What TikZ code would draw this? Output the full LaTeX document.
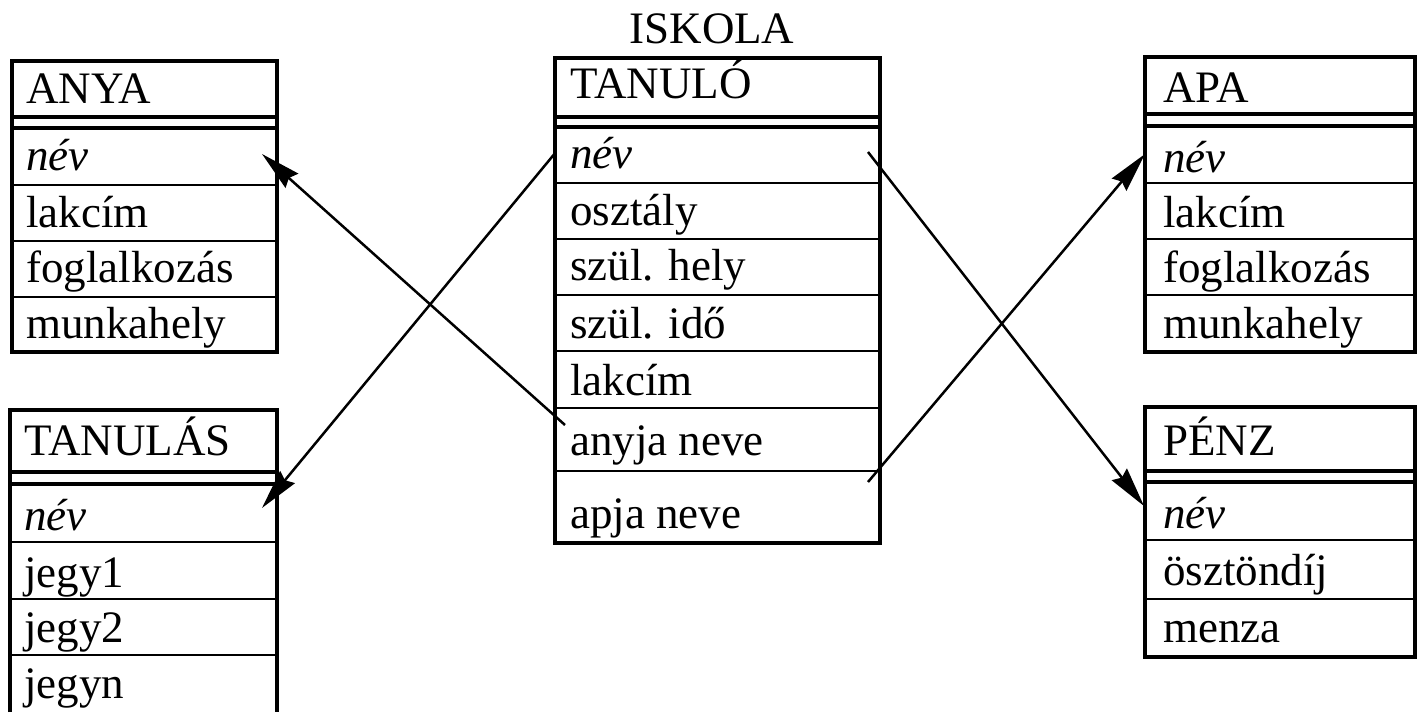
\documentclass[tikz,border=0pt]{standalone}
\usepackage{fontspec}
\setmainfont{Liberation Serif}
\usetikzlibrary{arrows.meta}
\begin{document}
\begin{tikzpicture}[x=1pt,y=-1pt,
  outer/.style={line width=4pt},
  dbl/.style={line width=4pt},
  sep/.style={line width=2pt},
  txt/.style={anchor=base west, inner sep=0pt, font=\fontsize{45}{54}\selectfont},
  ttl/.style={anchor=base, inner sep=0pt, font=\fontsize{45}{54}\selectfont},
  conn/.style={line width=2.5pt, -{Stealth[length=40pt,width=19pt,inset=4pt]}}]
\useasboundingbox (0,0) rectangle (1420,712);

% ---------- ANYA ----------
\draw[outer] (12,61) rectangle (277,352);
\draw[dbl] (12,117) -- (277,117) (12,128) -- (277,128);
\draw[sep] (12,185) -- (277,185) (12,241) -- (277,241) (12,297) -- (277,297);
\node[txt] (anya-h) at (26,103) {ANYA};
\node[txt] (anya-nev) at (26,170) {\itshape név};
\node[txt] (anya-lak) at (26,227) {lakcím};
\node[txt] (anya-fog) at (26,282) {foglalkozás};
\node[txt] (anya-mun) at (26,338) {munkahely};

% ---------- TANULÁS ----------
\draw[outer] (10,712) -- (10,410) -- (277,410) -- (277,712);
\draw[dbl] (10,472) -- (277,472) (10,484) -- (277,484);
\draw[sep] (10,542) -- (277,542) (10,599) -- (277,599) (10,655) -- (277,655);
\node[txt] (tls-h) at (24,455) {TANULÁS};
\node[txt] (tls-nev) at (24,530) {\itshape név};
\node[txt] (tls-j1) at (24,587) {jegy1};
\node[txt] (tls-j2) at (24,642) {jegy2};
\node[txt] (tls-jn) at (24,698) {jegyn};

% ---------- TANULÓ ----------
\node[ttl] (iskola) at (712,43) {ISKOLA};
\draw[outer] (555,58) rectangle (880,543);
\draw[dbl] (555,117) -- (880,117) (555,127) -- (880,127);
\draw[sep] (555,183) -- (880,183) (555,239) -- (880,239) (555,295) -- (880,295)
           (555,351) -- (880,351) (555,408) -- (880,408) (555,471) -- (880,471);
\node[txt] (tlo-h) at (570,98) {TANULÓ};
\node[txt] (tlo-nev) at (570,168) {\itshape név};
\node[txt] (tlo-oszt) at (570,225) {osztály};
\node[txt] (tlo-hely) at (570,280) {szül. hely};
\node[txt] (tlo-ido) at (570,338) {szül. idő};
\node[txt] (tlo-lak) at (570,395) {lakcím};
\node[txt] (tlo-anyja) at (570,455) {anyja neve};
\node[txt] (tlo-apja) at (570,528) {apja neve};

% ---------- APA ----------
\draw[outer] (1145,57) rectangle (1415,352);
\draw[dbl] (1145,114) -- (1415,114) (1145,126) -- (1415,126);
\draw[sep] (1145,183) -- (1415,183) (1145,239) -- (1415,239) (1145,295) -- (1415,295);
\node[txt] (apa-h) at (1163,102) {APA};
\node[txt] (apa-nev) at (1163,172) {\itshape név};
\node[txt] (apa-lak) at (1163,227) {lakcím};
\node[txt] (apa-fog) at (1163,282) {foglalkozás};
\node[txt] (apa-mun) at (1163,338) {munkahely};

% ---------- PÉNZ ----------
\draw[outer] (1145,407) rectangle (1415,657);
\draw[dbl] (1145,471) -- (1415,471) (1145,482) -- (1415,482);
\draw[sep] (1145,540) -- (1415,540) (1145,599) -- (1415,599);
\node[txt] (penz-h) at (1163,455) {PÉNZ};
\node[txt] (penz-nev) at (1163,528) {\itshape név};
\node[txt] (penz-oszt) at (1163,585) {ösztöndíj};
\node[txt] (penz-men) at (1163,642) {menza};

% ---------- connectors ----------
\coordinate (tloAnyjaL) at (565,425);
\coordinate (tloNevL) at (556,152);
\coordinate (tloNevR) at (868,152);
\coordinate (tloAnyjaR) at (868,482);
\coordinate (anyaIn) at (262,154);
\coordinate (tlsIn) at (262,508);
\coordinate (penzIn) at (1144,506);
\coordinate (apaIn) at (1145,154);
\draw[conn] (tloAnyjaL) -- (anyaIn);
\draw[conn] (tloNevL) -- (tlsIn);
\draw[conn] (tloNevR) -- (penzIn);
\draw[conn] (tloAnyjaR) -- (apaIn);
\end{tikzpicture}
\end{document}
